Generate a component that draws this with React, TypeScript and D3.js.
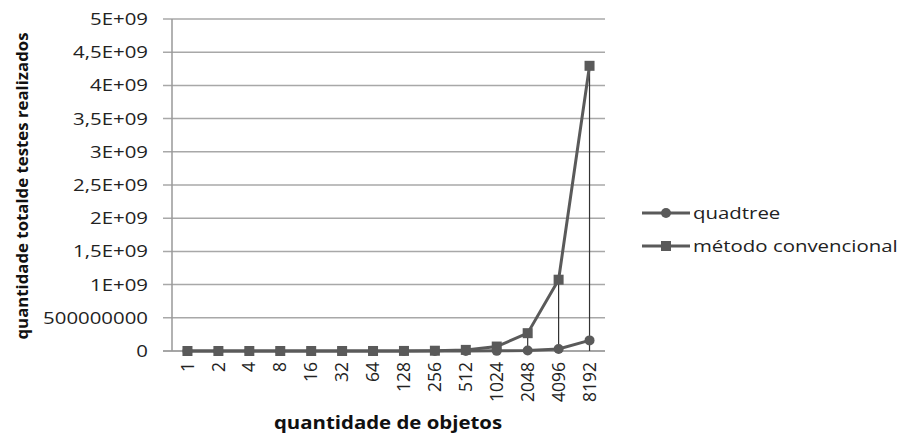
import React from "react";
import * as d3 from "d3";

const categories = ["1", "2", "4", "8", "16", "32", "64", "128", "256", "512", "1024", "2048", "4096", "8192"];
const quadtree = [0, 0, 0, 0, 0, 0, 0, 0, 0, 0, 2000000, 8000000, 30000000, 160000000];
const convencional = [64, 256, 1024, 4096, 16384, 65536, 262144, 1048576, 4194304, 16777216, 67108864, 268435456, 1073741824, 4294967296];
const yTicks = [0, 5e8, 1e9, 1.5e9, 2e9, 2.5e9, 3e9, 3.5e9, 4e9, 4.5e9, 5e9];
const yTickLabels = ["0", "500000000", "1E+09", "1,5E+09", "2E+09", "2,5E+09", "3E+09", "3,5E+09", "4E+09", "4,5E+09", "5E+09"];
const seriesNames = ["quadtree", "método convencional"];

const W = 903, H = 437;
const left = 172, right = 605, top = 19, bottom = 351;
const font = "'Open Sans', 'Noto Sans', sans-serif";
const col = "#5a5a5a";
const sx = 1.2;

export default function App() {
  const x = d3.scaleBand().domain(categories).range([left, right]);
  const y = d3.scaleLinear().domain([0, 5e9]).range([bottom, top]);
  const cx = (c: string) => (x(c) as number) + x.bandwidth() / 2;
  const line = d3.line<number>().x((_, i) => cx(categories[i])).y((d) => y(d));

  return (
    <svg width={W} height={H} style={{ position: "absolute", left: 0, top: 0, background: "#fff" }}>
      {yTicks.map((t, i) => (
        <g key={i}>
          <line x1={163} x2={right} y1={y(t)} y2={y(t)} stroke={i === 0 ? "#888" : "#a8a8a8"} strokeWidth={1.5} />
          <text transform={`translate(148,${y(t)}) scale(${sx},1)`} dy="0.35em" textAnchor="end" fontFamily={font} fontSize={17} fill="#222">
            {yTickLabels[i]}
          </text>
        </g>
      ))}
      <line x1={left} x2={left} y1={top} y2={bottom} stroke="#999" strokeWidth={1.5} />
      {categories.map((c, i) => (
        <line key={"d" + i} x1={cx(c)} x2={cx(c)} y1={y(convencional[i])} y2={bottom} stroke="#333" strokeWidth={1.2} />
      ))}
      <path d={line(quadtree) || ""} fill="none" stroke={col} strokeWidth={3} />
      <path d={line(convencional) || ""} fill="none" stroke={col} strokeWidth={3} />
      {quadtree.map((v, i) => (
        <circle key={"q" + i} cx={cx(categories[i])} cy={y(v)} r={5} fill={col} />
      ))}
      {convencional.map((v, i) => (
        <rect key={"c" + i} x={cx(categories[i]) - 5} y={y(v) - 5} width={10} height={10} fill={col} />
      ))}
      {categories.map((c, i) => (
        <text key={"x" + i} transform={`translate(${cx(c)},${362}) rotate(-90)`} dy="0.35em" textAnchor="end" fontFamily={font} fontSize={17.5} fill="#222">
          {c}
        </text>
      ))}
      <text transform={`translate(388,429) scale(${sx},1)`} textAnchor="middle" fontFamily={font} fontSize={17} fontWeight="bold" fill="#111">
        quantidade de objetos
      </text>
      <text transform={`translate(22,186) rotate(-90)`} dy="0.35em" textAnchor="middle" fontFamily={font} fontSize={16.8} fontWeight="bold" fill="#111">
        quantidade totalde testes realizados
      </text>
      {seriesNames.map((n, i) => {
        const ly = 213 + i * 33;
        return (
          <g key={"l" + i}>
            <line x1={642} x2={690} y1={ly} y2={ly} stroke={col} strokeWidth={3} />
            {i === 0 ? <circle cx={666} cy={ly} r={5} fill={col} /> : <rect x={661} y={ly - 5} width={10} height={10} fill={col} />}
            <text transform={`translate(693,${ly}) scale(${sx},1)`} dy="0.35em" fontFamily={font} fontSize={17} fill="#222">
              {n}
            </text>
          </g>
        );
      })}
    </svg>
  );
}
